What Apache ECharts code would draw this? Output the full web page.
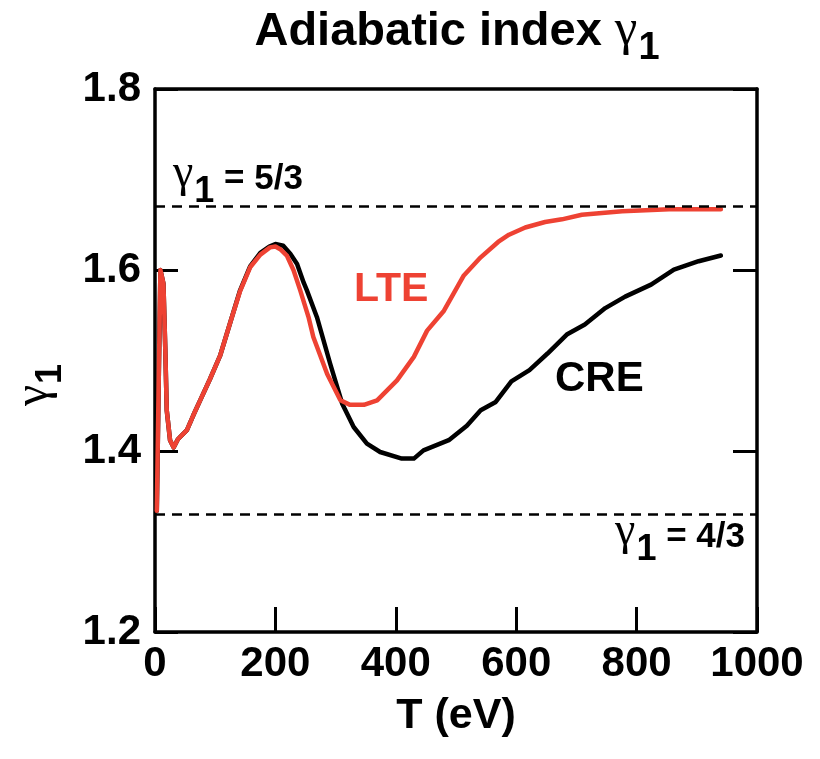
<!DOCTYPE html>
<html>
<head>
<meta charset="utf-8">
<script src="https://cdn.jsdelivr.net/npm/echarts@6/dist/echarts.min.js"></script>
<style>
  html, body { margin: 0; padding: 0; background: #ffffff; }
  #chart { width: 820px; height: 759px; }
</style>
</head>
<body>
<div id="chart"></div>
<script>
// Temperature grid (eV) and adiabatic index for the LTE model
var lteT = [3, 6, 9, 12, 14, 17, 19.5, 25, 31, 38, 53, 64, 75, 91, 108, 125, 141, 158, 175, 191, 200, 208, 219, 230, 241, 255, 263, 286, 308, 324, 347, 369, 402, 430, 452, 480, 513, 541, 570, 588, 615, 648, 676, 709, 776, 854, 940];
var lteGamma = [1.334, 1.47, 1.600, 1.598, 1.585, 1.515, 1.445, 1.412, 1.404, 1.413, 1.423, 1.440, 1.456, 1.479, 1.505, 1.542, 1.576, 1.603, 1.617, 1.625, 1.626, 1.623, 1.616, 1.600, 1.578, 1.548, 1.526, 1.485, 1.456, 1.451, 1.451, 1.456, 1.478, 1.504, 1.533, 1.555, 1.594, 1.614, 1.631, 1.639, 1.647, 1.653, 1.656, 1.661, 1.665, 1.667, 1.667];

// Temperature grid (eV) and adiabatic index for the CRE model
var creT = [3, 6, 9, 12, 14, 17, 19.5, 25, 31, 38, 53, 64, 75, 91, 108, 125, 141, 158, 175, 190, 200, 213, 225, 236, 247, 252, 269, 291, 311, 330, 352, 374, 410, 430, 446, 488, 518, 541, 566, 592, 622, 652, 684, 714, 748, 781, 824, 862, 903, 940];
var creGamma = [1.334, 1.47, 1.600, 1.598, 1.585, 1.515, 1.445, 1.412, 1.404, 1.413, 1.423, 1.440, 1.456, 1.479, 1.505, 1.542, 1.577, 1.604, 1.619, 1.626, 1.6287, 1.6268, 1.6177, 1.6067, 1.586, 1.578, 1.5478, 1.4964, 1.4522, 1.4265, 1.4081, 1.3989, 1.3916, 1.3916, 1.4007, 1.412, 1.428, 1.445, 1.4542, 1.4769, 1.4894, 1.5077, 1.5287, 1.5397, 1.5579, 1.5706, 1.5838, 1.6004, 1.6097, 1.616];

// Reference limits of the adiabatic index
var gammaLimits = [5 / 3, 4 / 3];

// Axis ranges and ticks
var xTicks = { min: 0, max: 1000, step: 200 };
var yTicks = { min: 1.2, max: 1.8, step: 0.2 };

function pairs(xs, ys) {
  return xs.map(function (x, i) { return [x, ys[i]]; });
}

var SANS = 'Liberation Sans, Arial, Helvetica, sans-serif';
var SERIF = 'Liberation Serif, Times New Roman, serif';
var RED = '#EE4233';

var chart = echarts.init(document.getElementById('chart'), null, { renderer: 'canvas' });

// rich-text styles for a gamma symbol followed by a lowered bold "1"
var gammaSubRich = function (mainSize, subSize, greekSize, drop) {
  return {
    g: { fontFamily: SERIF, fontSize: greekSize, color: '#000', verticalAlign: 'bottom', padding: [0, 1, drop, 0] },
    s: { fontFamily: SANS, fontWeight: 'bold', fontSize: subSize, color: '#000', verticalAlign: 'bottom' },
    t: { fontFamily: SANS, fontWeight: 'bold', fontSize: mainSize, color: '#000', verticalAlign: 'bottom', padding: [0, 0, drop, 0] }
  };
};

var option = {
  backgroundColor: '#ffffff',
  animation: false,
  grid: { left: 155, right: 63, top: 89, bottom: 127, containLabel: false },
  xAxis: [
    {
      type: 'value', position: 'bottom',
      min: xTicks.min, max: xTicks.max, interval: xTicks.step,
      axisLine: { show: true, onZero: false, lineStyle: { color: '#000', width: 3.5 } },
      axisTick: { show: true, inside: true, length: 25, lineStyle: { color: '#000', width: 3 } },
      axisLabel: {
        color: '#000', fontFamily: SANS, fontWeight: 'bold', fontSize: 42, margin: 11,
        formatter: function (v) { return String(v); }
      },
      splitLine: { show: false }
    },
    {
      type: 'value', position: 'top',
      min: xTicks.min, max: xTicks.max, interval: xTicks.step,
      axisLine: { show: true, onZero: false, lineStyle: { color: '#000', width: 3.5 } },
      axisTick: { show: false }, axisLabel: { show: false }, splitLine: { show: false }
    }
  ],
  yAxis: [
    {
      type: 'value', position: 'left',
      min: yTicks.min, max: yTicks.max, interval: yTicks.step,
      axisLine: { show: true, onZero: false, lineStyle: { color: '#000', width: 3.5 } },
      axisTick: { show: true, inside: true, length: 23, lineStyle: { color: '#000', width: 3 } },
      axisLabel: {
        color: '#000', fontFamily: SANS, fontWeight: 'bold', fontSize: 42, margin: 14,
        formatter: function (v) { return v.toFixed(1); }
      },
      splitLine: { show: false }
    },
    {
      type: 'value', position: 'right',
      min: yTicks.min, max: yTicks.max, interval: yTicks.step,
      axisLine: { show: true, onZero: false, lineStyle: { color: '#000', width: 3.5 } },
      axisTick: { show: true, inside: true, length: 24, lineStyle: { color: '#000', width: 3 } },
      axisLabel: { show: false }, splitLine: { show: false }
    }
  ],
  series: [
    {
      name: 'CRE', type: 'line', data: pairs(creT, creGamma),
      showSymbol: false, symbol: 'none', z: 3,
      lineStyle: { color: '#000', width: 4.5, join: 'round', cap: 'round' }
    },
    {
      name: 'LTE', type: 'line', data: pairs(lteT, lteGamma),
      showSymbol: false, symbol: 'none', z: 4,
      lineStyle: { color: RED, width: 4.5, join: 'round', cap: 'round' },
      markLine: {
        silent: true, symbol: 'none', label: { show: false }, animation: false,
        lineStyle: { color: '#000', width: 2.5, type: [10, 7] },
        data: gammaLimits.map(function (g) { return { yAxis: g }; })
      }
    }
  ],
  graphic: [
    {
      type: 'text', x: 457, y: 68, z: 10,
      style: {
        text: '{t|Adiabatic index }{g|γ}{s|1}', align: 'center', verticalAlign: 'bottom',
        rich: gammaSubRich(47, 38, 51, 12)
      }
    },
    {
      type: 'text', x: 456, y: 716, z: 10,
      style: {
        text: 'T (eV)', fill: '#000', font: 'bold 43px ' + SANS,
        align: 'center', verticalAlign: 'middle'
      }
    },
    {
      type: 'text', x: 40, y: 385, rotation: Math.PI / 2, z: 10,
      style: {
        text: '{g|γ}{s|1}', align: 'center', verticalAlign: 'middle',
        rich: gammaSubRich(40, 36, 48, 11)
      }
    },
    {
      type: 'text', x: 173, y: 210, z: 10,
      style: {
        text: '{g|γ}{s|1}{t| = 5/3}', align: 'left', verticalAlign: 'bottom',
        rich: gammaSubRich(35, 36, 46, 13)
      }
    },
    {
      type: 'text', x: 745, y: 568, z: 10,
      style: {
        text: '{g|γ}{s|1}{t| = 4/3}', align: 'right', verticalAlign: 'bottom',
        rich: gammaSubRich(35, 36, 46, 13)
      }
    },
    {
      type: 'text', x: 354, y: 290, z: 10,
      style: { text: 'LTE', fill: RED, font: 'bold 41px ' + SANS, align: 'left', verticalAlign: 'middle' }
    },
    {
      type: 'text', x: 555, y: 379, z: 10,
      style: { text: 'CRE', fill: '#000', font: 'bold 42px ' + SANS, align: 'left', verticalAlign: 'middle' }
    }
  ]
};

chart.setOption(option);
</script>
</body>
</html>
